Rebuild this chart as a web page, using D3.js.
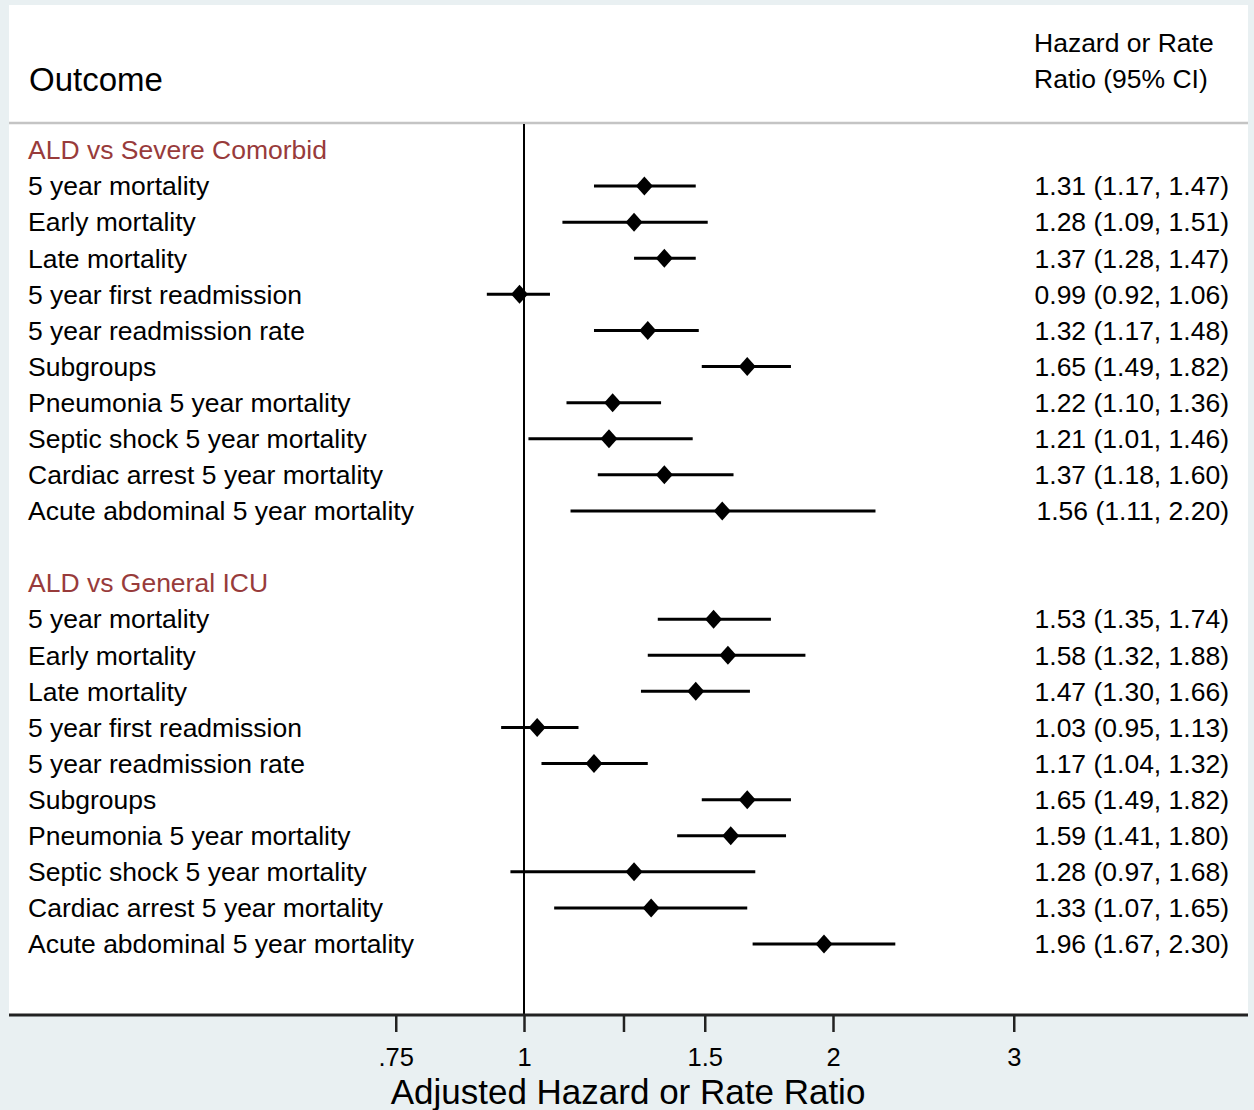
<!DOCTYPE html>
<html>
<head>
<meta charset="utf-8">
<script src="https://cdn.jsdelivr.net/npm/d3@7/dist/d3.min.js"></script>
<style>
  html, body { margin: 0; padding: 0; background: #e9f0f2; }
  svg { display: block; }
  text { font-family: "Liberation Sans", Arial, sans-serif; }
</style>
</head>
<body>
<svg id="chart" width="1254" height="1110"></svg>
<script>
// ---- Data ----
const groups = ["ALD vs Severe Comorbid", "ALD vs General ICU"];
const outcomes = [
  "5 year mortality", "Early mortality", "Late mortality",
  "5 year first readmission", "5 year readmission rate", "Subgroups",
  "Pneumonia 5 year mortality", "Septic shock 5 year mortality",
  "Cardiac arrest 5 year mortality", "Acute abdominal 5 year mortality"
];
const hrSevere = [1.31, 1.28, 1.37, 0.99, 1.32, 1.65, 1.22, 1.21, 1.37, 1.56];
const loSevere = [1.17, 1.09, 1.28, 0.92, 1.17, 1.49, 1.10, 1.01, 1.18, 1.11];
const hiSevere = [1.47, 1.51, 1.47, 1.06, 1.48, 1.82, 1.36, 1.46, 1.60, 2.20];
const hrGeneral = [1.53, 1.58, 1.47, 1.03, 1.17, 1.65, 1.59, 1.28, 1.33, 1.96];
const loGeneral = [1.35, 1.32, 1.30, 0.95, 1.04, 1.49, 1.41, 0.97, 1.07, 1.67];
const hiGeneral = [1.74, 1.88, 1.66, 1.13, 1.32, 1.82, 1.80, 1.68, 1.65, 2.30];
const tickValues = [0.75, 1, 1.25, 1.5, 2, 3];
const tickLabels = [".75", "1", "", "1.5", "2", "3"];
const xTitle = "Adjusted Hazard or Rate Ratio";
const colHeaderLeft = "Outcome";
const colHeaderRight = ["Hazard or Rate", "Ratio (95% CI)"];

// ---- Build row table ----
const rows = [];
let idx = 0;
const series = [
  {hr: hrSevere, lo: loSevere, hi: hiSevere},
  {hr: hrGeneral, lo: loGeneral, hi: hiGeneral}
];
groups.forEach((g, gi) => {
  rows.push({type: "header", label: g, i: idx++});
  outcomes.forEach((o, oi) => {
    rows.push({type: "row", label: o, hr: series[gi].hr[oi], lo: series[gi].lo[oi], hi: series[gi].hi[oi], i: idx++});
  });
  if (gi < groups.length - 1) idx++; // blank row
});

// ---- Layout ----
const svg = d3.select("#chart");
const W = 1254, H = 1110;
const panel = {x0: 9, y0: 5, x1: 1248, y1: 1015};
const sepY = 123;

const x = d3.scaleLog().domain([1, 2]).range([524, 833]);
const y = d3.scaleLinear().domain([0, 22]).range([150, 944]);

svg.append("rect").attr("x", 0).attr("y", 0).attr("width", W).attr("height", H).attr("fill", "#e9f0f2");
svg.append("rect").attr("x", panel.x0).attr("y", panel.y0)
  .attr("width", panel.x1 - panel.x0).attr("height", panel.y1 - panel.y0).attr("fill", "#ffffff");

// separator
svg.append("line").attr("x1", panel.x0).attr("x2", panel.x1).attr("y1", sepY).attr("y2", sepY)
  .attr("stroke", "#c4c4c4").attr("stroke-width", 2.5);

// headers
svg.append("text").attr("x", 29).attr("y", 79).attr("dy", "0.35em")
  .attr("font-size", 33).attr("fill", "#000").text(colHeaderLeft);
colHeaderRight.forEach((t, k) => {
  svg.append("text").attr("x", 1034).attr("y", 43 + k * 36).attr("dy", "0.35em")
    .attr("font-size", 26.5).attr("fill", "#000").text(t);
});

// reference line at 1
svg.append("line").attr("x1", x(1)).attr("x2", x(1)).attr("y1", sepY + 1).attr("y2", panel.y1)
  .attr("stroke", "#000").attr("stroke-width", 2);

// labels
svg.selectAll("text.lab").data(rows).enter().append("text")
  .attr("class", "lab")
  .attr("x", 28).attr("y", d => y(d.i)).attr("dy", "0.35em")
  .attr("font-size", 26.5)
  .attr("fill", d => d.type === "header" ? "#983b3b" : "#000")
  .text(d => d.label);

const dataRows = rows.filter(d => d.type === "row");
const f2 = d3.format(".2f");

// CI lines
svg.selectAll("line.ci").data(dataRows).enter().append("line")
  .attr("class", "ci")
  .attr("x1", d => x(d.lo)).attr("x2", d => x(d.hi))
  .attr("y1", d => y(d.i)).attr("y2", d => y(d.i))
  .attr("stroke", "#000").attr("stroke-width", 3);

// diamonds
svg.selectAll("path.pt").data(dataRows).enter().append("path")
  .attr("class", "pt")
  .attr("d", "M0,-9.5L8.5,0L0,9.5L-8.5,0Z")
  .attr("transform", d => `translate(${x(d.hr)},${y(d.i)})`)
  .attr("fill", "#000");

// values
svg.selectAll("text.val").data(dataRows).enter().append("text")
  .attr("class", "val")
  .attr("x", 1229).attr("y", d => y(d.i)).attr("dy", "0.35em")
  .attr("text-anchor", "end").attr("font-size", 26.5).attr("fill", "#000")
  .text(d => `${f2(d.hr)} (${f2(d.lo)}, ${f2(d.hi)})`);

// axis
const axisG = svg.append("g").attr("transform", `translate(0,${panel.y1})`);
axisG.call(d3.axisBottom(x).tickValues(tickValues)
  .tickFormat((d, i) => tickLabels[i]).tickSize(17).tickPadding(16).tickSizeOuter(0));
axisG.select(".domain").remove();
axisG.append("line").attr("x1", panel.x0).attr("x2", panel.x1).attr("y1", 0).attr("y2", 0)
  .attr("stroke", "#222").attr("stroke-width", 3);
axisG.selectAll(".tick line").attr("stroke", "#222").attr("stroke-width", 2.5);
axisG.selectAll(".tick text").attr("font-size", 25.5).attr("fill", "#000")
  .attr("font-family", "'Liberation Sans', Arial, sans-serif");

svg.append("text").attr("x", 628).attr("y", 1092).attr("dy", "0.35em")
  .attr("text-anchor", "middle").attr("font-size", 35).attr("fill", "#000").text(xTitle);
</script>
</body>
</html>
